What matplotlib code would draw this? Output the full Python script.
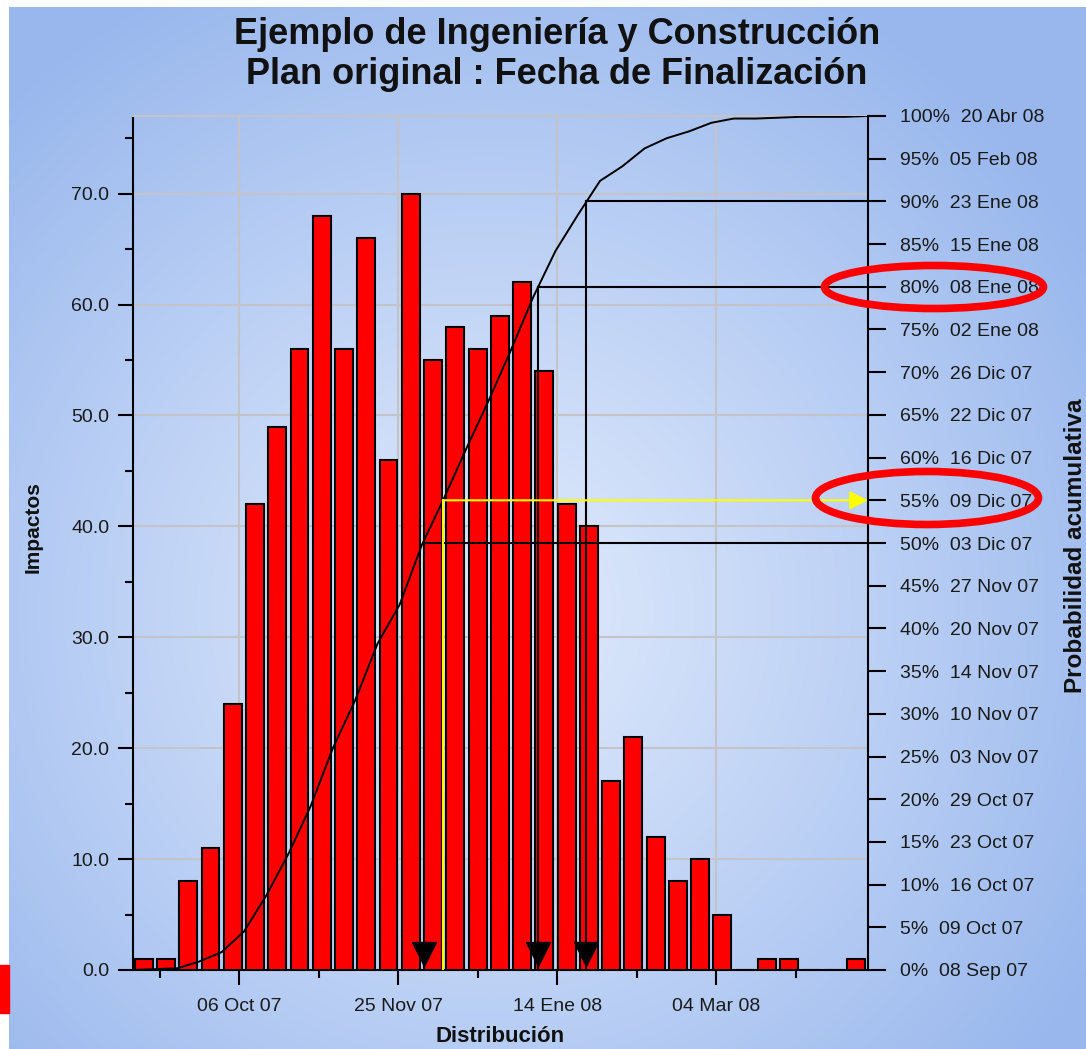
import numpy as np
import matplotlib
matplotlib.use("Agg")
import matplotlib.pyplot as plt
from matplotlib.patches import Ellipse, Rectangle
from datetime import datetime

plt.rcParams['font.family'] = ['Liberation Sans', 'DejaVu Sans']

# datos
impactos = [1, 1, 8, 11, 24, 42, 49, 56, 68, 56, 66, 46, 70, 55, 58, 56, 59,
            62, 54, 42, 40, 17, 21, 12, 8, 10, 5, 0, 1, 1, 0, 0, 1]
primer_bin = "06 Sep 07"   # centro de la primera barra, barras semanales

porcentajes = [0, 5, 10, 15, 20, 25, 30, 35, 40, 45, 50,
               55, 60, 65, 70, 75, 80, 85, 90, 95, 100]
fechas_prob = ["08 Sep 07", "09 Oct 07", "16 Oct 07", "23 Oct 07", "29 Oct 07",
               "03 Nov 07", "10 Nov 07", "14 Nov 07", "20 Nov 07", "27 Nov 07",
               "03 Dic 07", "09 Dic 07", "16 Dic 07", "22 Dic 07", "26 Dic 07",
               "02 Ene 08", "08 Ene 08", "15 Ene 08", "23 Ene 08", "05 Feb 08",
               "20 Abr 08"]
fechas_x = ["06 Oct 07", "25 Nov 07", "14 Ene 08", "04 Mar 08"]
marcas_negras = [50, 80, 90]
marca_amarilla = 55

meses = {"Ene": 1, "Feb": 2, "Mar": 3, "Abr": 4, "May": 5, "Jun": 6,
         "Jul": 7, "Ago": 8, "Sep": 9, "Oct": 10, "Nov": 11, "Dic": 12}
origen = datetime(2007, 9, 1)


def dia(s):
    d, m, a = s.split()
    return (datetime(2000 + int(a), meses[m], int(d)) - origen).days


x_bins = dia(primer_bin) + 7 * np.arange(len(impactos))
x_prob = {p: dia(f) for p, f in zip(porcentajes, fechas_prob)}
x_ticks = [dia(f) for f in fechas_x]

# curva acumulada a partir del histograma
acum = np.cumsum(impactos) / np.sum(impactos) * 100
x_acum = np.concatenate([[x_bins[0] - 3.5], x_bins + 3.5])
y_acum = np.concatenate([[0], acum])

W, H = 1086, 1049
fig = plt.figure(figsize=(W / 100, H / 100), dpi=100)
fig.patch.set_facecolor("white")

# fondo degradado radial
bg = fig.add_axes([9 / W, 0, 1 - 9 / W, 1 - 7 / H])
bg.set_axis_off()
yy, xx = np.mgrid[7:H:2, 9:W:2]
r = np.sqrt((xx - 490) ** 2 + (yy - 610) ** 2)
t = np.clip(r / 700, 0, 1) ** 1.1
c0 = np.array([0.88, 0.92, 0.99])
c1 = np.array([0.60, 0.72, 0.93])
img = c0[None, None, :] * (1 - t[..., None]) + c1[None, None, :] * t[..., None]
bg.imshow(img, aspect="auto", extent=[0, 1, 0, 1])
bg.set_xlim(0, 1)
bg.set_ylim(0, 1)

ax = fig.add_axes([133 / W, 1 - 970 / H, (868 - 133) / W, (970 - 116) / H])
ax.patch.set_alpha(0)
ax.bar(x_bins, impactos, width=5.6, color="#ff0000", edgecolor="black",
       linewidth=1.5, zorder=3)
ax.set_xlim(1.6, 232.8)
ax.set_ylim(0, 77)

ax.set_yticks(np.arange(0, 71, 10))
ax.set_yticks(np.arange(5, 76, 10), minor=True)
ax.set_yticklabels(["%.1f" % v for v in np.arange(0, 71, 10)])
ax.set_xticks(x_ticks)
ax.set_xticklabels(fechas_x)
ax.set_xticks([x_ticks[0] - 25] + [v + 25 for v in x_ticks], minor=True)
ax.tick_params(axis="both", which="major", length=11, width=1.5,
               labelsize=14, colors="black", labelcolor="#1a1a1a")
ax.tick_params(axis="both", which="minor", length=6, width=1.5, colors="black")
ax.tick_params(axis="y", pad=6)
ax.tick_params(axis="x", pad=9)
ax.grid(True, which="major", color="#c4c4c8", linewidth=1.5, zorder=0)
ax.set_axisbelow(True)
for s in ["left", "bottom"]:
    ax.spines[s].set_linewidth(1.5)
ax.spines["top"].set_color("#c4c4c8")
ax.spines["top"].set_linewidth(1.5)
ax.spines["right"].set_visible(False)

ax2 = ax.twinx()
ax2.set_ylim(0, 100)
ax2.set_yticks(porcentajes)
ax2.set_yticklabels(["%d%%  %s" % (p, f) for p, f in zip(porcentajes, fechas_prob)])
ax2.tick_params(axis="y", length=13, width=1.5, labelsize=14, pad=10,
                labelcolor="#1a1a1a")
ax2.spines["right"].set_linewidth(1.5)
ax2.spines["top"].set_visible(False)
ax2.spines["left"].set_visible(False)
ax2.spines["bottom"].set_visible(False)

ax2.plot(x_acum, y_acum, color="black", linewidth=1.4, zorder=4)

xmax = ax.get_xlim()[1]
for p in marcas_negras:
    xp = x_prob[p]
    ax2.plot([xp, xmax], [p, p], color="black", linewidth=1.5, zorder=5)
    ax2.plot([xp, xp], [0, p], color="black", linewidth=1.5, zorder=5)
    ax2.plot(xp, 1.9, marker="v", markersize=17, color="black", zorder=6)

xa = x_prob[marca_amarilla]
ax2.plot([xa, xa], [0, marca_amarilla], color="#ffff00", linewidth=1.5, zorder=5)
ax2.annotate("", xy=(xmax, marca_amarilla), xytext=(xa, marca_amarilla),
             arrowprops=dict(arrowstyle="-|>", color="#ffff00", lw=1.5,
                             mutation_scale=28, shrinkA=0, shrinkB=0),
             zorder=6)

fig.text(557 / W, 1 - 35 / H, "Ejemplo de Ingeniería y Construcción",
         ha="center", va="center", fontsize=26, fontweight="bold", color="#111111")
fig.text(557 / W, 1 - 74 / H, "Plan original : Fecha de Finalización",
         ha="center", va="center", fontsize=26, fontweight="bold", color="#111111")
fig.text(33 / W, 1 - 527 / H, "Impactos", rotation=90, ha="center", va="center",
         fontsize=15, fontweight="bold", color="#111111")
fig.text(500 / W, 1 - 1047 / H, "Distribución", ha="center", va="bottom",
         fontsize=16, fontweight="bold", color="#111111")
fig.text(1075 / W, 1 - 546 / H, "Probabilidad acumulativa", rotation=90,
         ha="center", va="center", fontsize=17.5, fontweight="bold", color="#111111")

# marcas rojas
fig.patches.append(Ellipse((934 / W, 1 - 287 / H), 219 / W, 43 / H, fill=False,
                           edgecolor="#ff0000", linewidth=5.5,
                           transform=fig.transFigure, figure=fig))
fig.patches.append(Ellipse((927 / W, 1 - 498 / H), 223 / W, 53 / H, fill=False,
                           edgecolor="#ff0000", linewidth=5.5,
                           transform=fig.transFigure, figure=fig))
fig.patches.append(Rectangle((0, 1 - 1013 / H), 9 / W, 48 / H, color="#ff0000",
                             transform=fig.transFigure, figure=fig))

fig.savefig("out.png", dpi=100, facecolor=fig.get_facecolor())
